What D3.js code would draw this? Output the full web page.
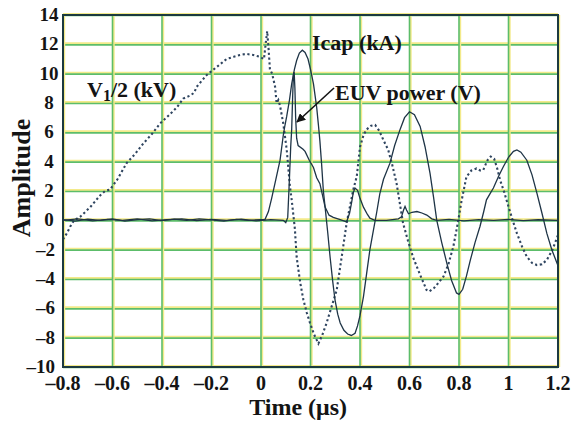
<!DOCTYPE html>
<html>
<head>
<meta charset="utf-8">
<script src="https://cdn.jsdelivr.net/npm/d3@7"></script>
<style>
    body { margin: 0; background: #ffffff; }
    text { font-family: "Liberation Serif", "Times New Roman", serif; font-weight: bold; fill: #141414; }
</style>
</head>
<body>
<div id="chart"></div>
<script>
"use strict";

// time (us) and amplitude pairs
let v1HalfTrace = [
    [-0.8, -1.3], [-0.785, -0.9], [-0.77, -0.4], [-0.755, 0], [-0.73, 0.25], [-0.69, 0.9],
    [-0.65, 1.7], [-0.63, 2.0], [-0.61, 2.1], [-0.58, 2.8], [-0.543, 3.9], [-0.51, 4.5],
    [-0.475, 5.25], [-0.44, 5.9], [-0.408, 6.6], [-0.37, 7.2], [-0.34, 7.7], [-0.314, 8.3],
    [-0.287, 8.5], [-0.27, 8.7], [-0.26, 9.1], [-0.22, 9.9], [-0.179, 10.45], [-0.139, 11.0],
    [-0.11, 11.15], [-0.085, 11.27], [-0.06, 11.35], [-0.031, 11.27], [-0.005, 11.15],
    [0.012, 11.0], [0.02, 12.2], [0.025, 12.9], [0.031, 11.6], [0.036, 10.3], [0.045, 10.0],
    [0.057, 9.1], [0.063, 8.0], [0.07, 8.2], [0.077, 7.8], [0.09, 6.6], [0.104, 4.8],
    [0.117, 2.3], [0.124, 1.4], [0.137, -0.6], [0.144, -2.5], [0.158, -4.2], [0.171, -5.4],
    [0.185, -6.3], [0.198, -7.0], [0.215, -7.8], [0.232, -8.4], [0.248, -7.8], [0.265, -7.0],
    [0.285, -5.9], [0.306, -4.75], [0.326, -2.5], [0.346, -0.2], [0.36, 1.0], [0.373, 2.1],
    [0.387, 3.0], [0.40, 5.0], [0.414, 5.8], [0.427, 6.2], [0.445, 6.45], [0.461, 6.5],
    [0.478, 6.1], [0.494, 5.5], [0.514, 4.8], [0.53, 3.8], [0.548, 2.5], [0.574, -0.2],
    [0.594, -1.4], [0.614, -2.5], [0.64, -3.6], [0.669, -4.75], [0.68, -4.85], [0.70, -4.6],
    [0.72, -4.2], [0.737, -3.84], [0.757, -3.0], [0.777, -1.8], [0.795, -0.2], [0.81, 1.3],
    [0.83, 2.97], [0.85, 3.4], [0.871, 3.54], [0.885, 3.4], [0.898, 3.43], [0.915, 4.1],
    [0.928, 4.35], [0.942, 4.2], [0.955, 3.5], [0.966, 2.75], [0.983, 1.9], [1.0, 0.93],
    [1.017, 0.0], [1.034, -0.89], [1.055, -1.8], [1.074, -2.48], [1.095, -2.9], [1.115, -3.05],
    [1.135, -3.0], [1.155, -2.7], [1.178, -2.0], [1.2, -1.0]
];

let icapTrace = [
    [-0.8, 0.05], [-0.75, -0.05], [-0.7, 0.08], [-0.65, 0.0], [-0.6, 0.1], [-0.55, -0.05],
    [-0.5, 0.05], [-0.45, 0.1], [-0.4, -0.02], [-0.35, 0.08], [-0.3, 0.0], [-0.25, 0.1],
    [-0.2, 0.03], [-0.15, -0.05], [-0.1, 0.06], [-0.05, 0.0], [0.0, 0.05], [0.016, 0.05],
    [0.03, 0.6], [0.043, 1.5], [0.06, 2.8], [0.077, 4.1], [0.09, 5.8], [0.097, 6.5],
    [0.104, 7.1], [0.115, 8.2], [0.124, 9.3], [0.135, 10.3], [0.144, 10.9], [0.155, 11.4],
    [0.167, 11.6], [0.178, 11.45], [0.19, 11.0], [0.2, 10.3], [0.212, 9.3], [0.225, 7.7],
    [0.232, 6.5], [0.238, 5.4], [0.245, 3.8], [0.252, 2.0], [0.259, 0.9], [0.27, -0.9],
    [0.279, -2.48], [0.29, -4.2], [0.299, -5.43], [0.31, -6.4], [0.32, -7.0], [0.335, -7.5],
    [0.35, -7.75], [0.365, -7.85], [0.38, -7.7], [0.39, -7.2], [0.40, -6.5], [0.414, -5.2],
    [0.427, -3.6], [0.44, -2.0], [0.455, -0.6], [0.467, 0.5], [0.48, 1.8], [0.495, 2.8],
    [0.521, 3.9], [0.54, 5.1], [0.562, 6.2], [0.58, 7.0], [0.6, 7.4], [0.62, 7.2],
    [0.643, 6.4], [0.663, 5.0], [0.683, 3.2], [0.697, 1.6], [0.71, 0.02], [0.73, -1.5],
    [0.751, -2.93], [0.77, -4.1], [0.79, -4.95], [0.80, -5.05], [0.815, -4.7], [0.83, -3.8],
    [0.846, -2.7], [0.865, -1.5], [0.885, -0.4], [0.9, 0.6], [0.911, 1.4], [0.925, 1.8],
    [0.939, 2.2], [0.96, 3.0], [0.979, 3.65], [1.0, 4.3], [1.02, 4.7], [1.034, 4.8],
    [1.05, 4.65], [1.074, 4.1], [1.095, 3.1], [1.115, 1.84], [1.135, 0.5], [1.155, -0.89],
    [1.175, -2.0], [1.2, -3.1]
];

let euvTrace = [
    [-0.8, 0.0], [-0.74, 0.1], [-0.68, -0.04], [-0.62, 0.06], [-0.56, 0.0], [-0.5, 0.1],
    [-0.44, -0.03], [-0.38, 0.05], [-0.32, 0.1], [-0.26, -0.02], [-0.2, 0.06], [-0.14, 0.0],
    [-0.08, 0.08], [-0.02, -0.04], [0.04, 0.05], [0.09, 0.0], [0.1, -0.15], [0.108, 0.2],
    [0.114, 2.5], [0.12, 5.0], [0.124, 6.2], [0.128, 8.5], [0.131, 9.9], [0.134, 10.1],
    [0.137, 9.0], [0.14, 7.0], [0.144, 5.6], [0.15, 5.1], [0.17, 4.85], [0.178, 4.7],
    [0.195, 4.1], [0.212, 3.6], [0.225, 2.9], [0.238, 2.5], [0.25, 1.6], [0.259, 0.9],
    [0.275, 0.35], [0.292, 0.2], [0.32, 0.05], [0.346, -0.1], [0.358, 0.5], [0.366, 1.2],
    [0.373, 1.9], [0.38, 2.2], [0.39, 2.05], [0.40, 1.5], [0.414, 0.9], [0.43, 0.4],
    [0.44, 0.15], [0.46, 0.0], [0.507, 0.0], [0.555, 0.1], [0.568, 0.25], [0.576, 0.7],
    [0.582, 0.95], [0.588, 0.7], [0.596, 0.45], [0.61, 0.55], [0.63, 0.6], [0.65, 0.5],
    [0.67, 0.36], [0.69, 0.1], [0.71, 0.0], [0.76, 0.06], [0.82, -0.03], [0.88, 0.05],
    [0.94, 0.0], [1.0, 0.06], [1.06, -0.02], [1.12, 0.04], [1.2, 0.0]
];

let xTicks = [-0.8, -0.6, -0.4, -0.2, 0, 0.2, 0.4, 0.6, 0.8, 1, 1.2];
let yTicks = [-10, -8, -6, -4, -2, 0, 2, 4, 6, 8, 10, 12, 14];

let width = 571;
let height = 422;
let margin = { top: 15, right: 13, bottom: 55, left: 63 };

let svg = d3.select("#chart").append("svg")
    .attr("width", width)
    .attr("height", height);

let x = d3.scaleLinear()
    .domain([-0.8, 1.2])
    .range([margin.left, width - margin.right]);

let y = d3.scaleLinear()
    .domain([-10, 14])
    .range([height - margin.bottom, margin.top]);

// grid: yellow fringe under a green line, like the scanned original
let grid = svg.append("g");

grid.selectAll(".hy").data(yTicks).enter().append("line")
    .attr("x1", x(-0.8)).attr("x2", x(1.2))
    .attr("y1", d => y(d) - 1).attr("y2", d => y(d) - 1)
    .style("stroke", "#f3ea8a").style("stroke-width", 2);
grid.selectAll(".hg").data(yTicks).enter().append("line")
    .attr("x1", x(-0.8)).attr("x2", x(1.2))
    .attr("y1", d => y(d) + 0.5).attr("y2", d => y(d) + 0.5)
    .style("stroke", "#5cbd6a").style("stroke-width", 1.6);

grid.selectAll(".vy").data(xTicks).enter().append("line")
    .attr("x1", d => x(d) + 1.2).attr("x2", d => x(d) + 1.2)
    .attr("y1", y(14)).attr("y2", y(-10))
    .style("stroke", "#f3ea8a").style("stroke-width", 2);
grid.selectAll(".vg").data(xTicks).enter().append("line")
    .attr("x1", d => x(d)).attr("x2", d => x(d))
    .attr("y1", y(14)).attr("y2", y(-10))
    .style("stroke", "#5cbd6a").style("stroke-width", 1.6);

let line = d3.line()
    .x(d => x(d[0]))
    .y(d => y(d[1]));

svg.append("path")
    .datum(v1HalfTrace)
    .attr("d", line)
    .style("fill", "none")
    .style("stroke", "#2f4560")
    .style("stroke-width", 2.1)
    .style("stroke-dasharray", "2.2,2.6");

svg.append("path")
    .datum(euvTrace)
    .attr("d", line)
    .style("fill", "none")
    .style("stroke", "#1e3446")
    .style("stroke-width", 1.3);

svg.append("path")
    .datum(icapTrace)
    .attr("d", line)
    .style("fill", "none")
    .style("stroke", "#1e3446")
    .style("stroke-width", 1.3);

// plot frame
svg.append("rect")
    .attr("x", x(-0.8)).attr("y", y(14))
    .attr("width", x(1.2) - x(-0.8))
    .attr("height", y(-10) - y(14))
    .style("fill", "none")
    .style("stroke", "#1b3a40")
    .style("stroke-width", 2);

// tick labels
svg.selectAll(".ylab").data(yTicks).enter().append("text")
    .attr("x", d => d < 0 ? 55 : 49)
    .attr("y", d => y(d) + 6)
    .attr("text-anchor", d => d < 0 ? "end" : "middle")
    .style("font-size", "19px")
    .text(d => d < 0 ? "\u2013" + Math.abs(d) : d);

svg.selectAll(".xlab").data(xTicks).enter().append("text")
    .attr("x", d => x(d))
    .attr("y", 390)
    .attr("text-anchor", "middle")
    .style("font-size", "20px")
    .text(d => d < 0 ? "\u2013" + Math.abs(d) : d);

svg.append("text")
    .attr("x", x(0.15))
    .attr("y", 415)
    .attr("text-anchor", "middle")
    .style("font-size", "24px")
    .text("Time (\u03bcs)");

svg.append("text")
    .attr("transform", "translate(30,178) rotate(-90)")
    .attr("text-anchor", "middle")
    .style("font-size", "26px")
    .text("Amplitude");

// trace annotations
svg.append("text")
    .attr("x", 312).attr("y", 50)
    .style("font-size", "22px")
    .text("Icap (kA)");

let vLabel = svg.append("text")
    .attr("x", 87).attr("y", 97)
    .style("font-size", "22px");
vLabel.append("tspan").text("V");
vLabel.append("tspan").attr("dy", 4).style("font-size", "16px").text("1");
vLabel.append("tspan").attr("dy", -4).text("/2 (kV)");

svg.append("text")
    .attr("x", 335).attr("y", 100)
    .style("font-size", "22px")
    .text("EUV power (V)");

svg.append("defs").append("marker")
    .attr("id", "arrowHead")
    .attr("viewBox", "0 0 10 10")
    .attr("refX", 9).attr("refY", 5)
    .attr("markerWidth", 9).attr("markerHeight", 9)
    .attr("markerUnits", "userSpaceOnUse")
    .attr("orient", "auto")
    .append("path")
    .attr("d", "M0,0 L10,5 L0,10 z")
    .style("fill", "#141414");

svg.append("line")
    .attr("x1", 334).attr("y1", 88)
    .attr("x2", 297).attr("y2", 122)
    .style("stroke", "#141414")
    .style("stroke-width", 1.6)
    .attr("marker-end", "url(#arrowHead)");
</script>
</body>
</html>
